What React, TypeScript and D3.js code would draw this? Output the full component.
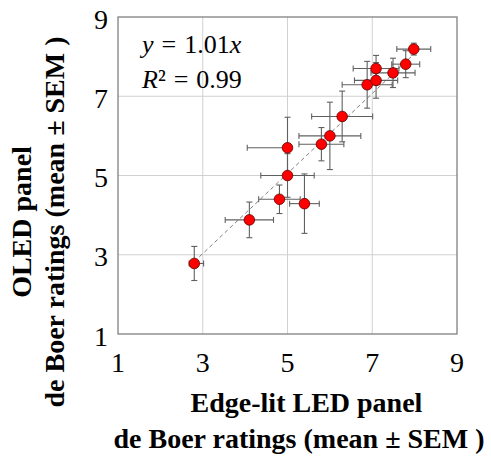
import React from 'react';
import * as d3 from 'd3';

// Edge-lit LED (x) vs OLED (y) de Boer ratings, mean ± SEM
const ledMean = [2.8, 4.1, 4.81, 5.4, 5.0, 5.0, 5.8, 6.0, 6.29, 6.88, 7.09, 7.09, 7.49, 7.79, 7.98];
const oledMean = [2.78, 3.88, 4.4, 4.29, 5.0, 5.7, 5.79, 6.0, 6.49, 7.29, 7.4, 7.7, 7.59, 7.81, 8.19];
const ledSemLo = [0.12, 0.57, 0.49, 0.35, 0.63, 0.95, 0.53, 0.73, 0.72, 0.59, 0.51, 0.54, 0.52, 0.33, 0.4];
const ledSemHi = [0.22, 0.57, 0.49, 0.35, 0.63, 0.0, 0.53, 0.73, 0.72, 0.59, 0.51, 0.54, 0.52, 0.33, 0.4];
const oledSem = [0.43, 0.45, 0.36, 0.75, 0.55, 0.77, 0.42, 0.85, 0.64, 0.59, 0.45, 0.33, 0.37, 0.34, 0.15];

const ticks = [1, 3, 5, 7, 9];
const slope = 1.01;
const fitRange = [2.8, 8.0];

const font = '"Liberation Serif", "Times New Roman", serif';

export default function App() {
  const width = 491;
  const height = 457;
  const margin = { left: 118, top: 17, right: 34, bottom: 123 };

  const x = d3.scaleLinear().domain([1, 9]).range([margin.left, width - margin.right]);
  const y = d3.scaleLinear().domain([1, 9]).range([height - margin.bottom, margin.top]);

  const fitLine = d3.line<number>()
    .x(d => x(d))
    .y(d => y(slope * d));

  const cap = 3;

  return (
    <svg width={width} height={height} style={{ position: 'absolute', left: 0, top: 0, background: '#fff' }} fontFamily={font}>
      {/* grid */}
      {ticks.slice(1, -1).map(t => (
        <g key={t}>
          <line x1={x(t)} x2={x(t)} y1={y(1)} y2={y(9)} stroke="#d0d0d0" strokeWidth={1} />
          <line x1={x(1)} x2={x(9)} y1={y(t)} y2={y(t)} stroke="#d0d0d0" strokeWidth={1} />
        </g>
      ))}
      <rect x={x(1)} y={y(9)} width={x(9) - x(1)} height={y(1) - y(9)} fill="none" stroke="#808080" strokeWidth={1.3} />

      {/* tick labels */}
      {ticks.map(t => (
        <text key={'x' + t} x={x(t)} y={372} textAnchor="middle" fontSize={28} fill="#000">{t}</text>
      ))}
      {ticks.map(t => (
        <text key={'y' + t} x={108} y={y(t) + 11.5} textAnchor="end" fontSize={28} fill="#000">{t}</text>
      ))}

      {/* fit line */}
      <path d={fitLine(fitRange) || ''} fill="none" stroke="#808080" strokeWidth={1} strokeDasharray="4,3" />

      {/* error bars */}
      {ledMean.map((xv, i) => {
        const yv = oledMean[i];
        const px = x(xv);
        const py = y(yv);
        const xl = x(xv - ledSemLo[i]);
        const xr = x(xv + ledSemHi[i]);
        const yt = y(yv + oledSem[i]);
        const yb = y(yv - oledSem[i]);
        return (
          <g key={'e' + i} stroke="#606060" strokeWidth={1.1}>
            <line x1={xl} x2={xr} y1={py} y2={py} />
            {ledSemLo[i] > 0 && <line x1={xl} x2={xl} y1={py - cap} y2={py + cap} />}
            {ledSemHi[i] > 0 && <line x1={xr} x2={xr} y1={py - cap} y2={py + cap} />}
            <line x1={px} x2={px} y1={yt} y2={yb} />
            <line x1={px - cap} x2={px + cap} y1={yt} y2={yt} />
            <line x1={px - cap} x2={px + cap} y1={yb} y2={yb} />
          </g>
        );
      })}

      {/* points */}
      {ledMean.map((xv, i) => (
        <circle key={'p' + i} cx={x(xv)} cy={y(oledMean[i])} r={5.3} fill="#ff0000" stroke="#600000" strokeWidth={0.8} />
      ))}

      {/* annotation */}
      <text x={142} y={53} fontSize={26} fill="#000">
        <tspan fontStyle="italic">y</tspan><tspan dx={8}>=</tspan><tspan dx={8}>1.01</tspan><tspan fontStyle="italic">x</tspan>
      </text>
      <text x={142} y={88} fontSize={26} fill="#000">
        <tspan fontStyle="italic">R</tspan><tspan>²</tspan><tspan dx={8}>=</tspan><tspan dx={8}>0.99</tspan>
      </text>

      {/* x axis title */}
      <text x={306.5} y={411.5} textAnchor="middle" fontSize={28} fontWeight="bold" fill="#000">Edge-lit LED panel</text>
      <text x={299} y={448} textAnchor="middle" fontSize={28} fontWeight="bold" fill="#000">de Boer ratings (mean ± SEM )</text>

      {/* y axis title */}
      <text transform={`translate(31,222) rotate(-90)`} textAnchor="middle" fontSize={28} fontWeight="bold" fill="#000">OLED panel</text>
      <text transform={`translate(64,222) rotate(-90)`} textAnchor="middle" fontSize={28} fontWeight="bold" fill="#000">de Boer ratings (mean ± SEM )</text>
    </svg>
  );
}
